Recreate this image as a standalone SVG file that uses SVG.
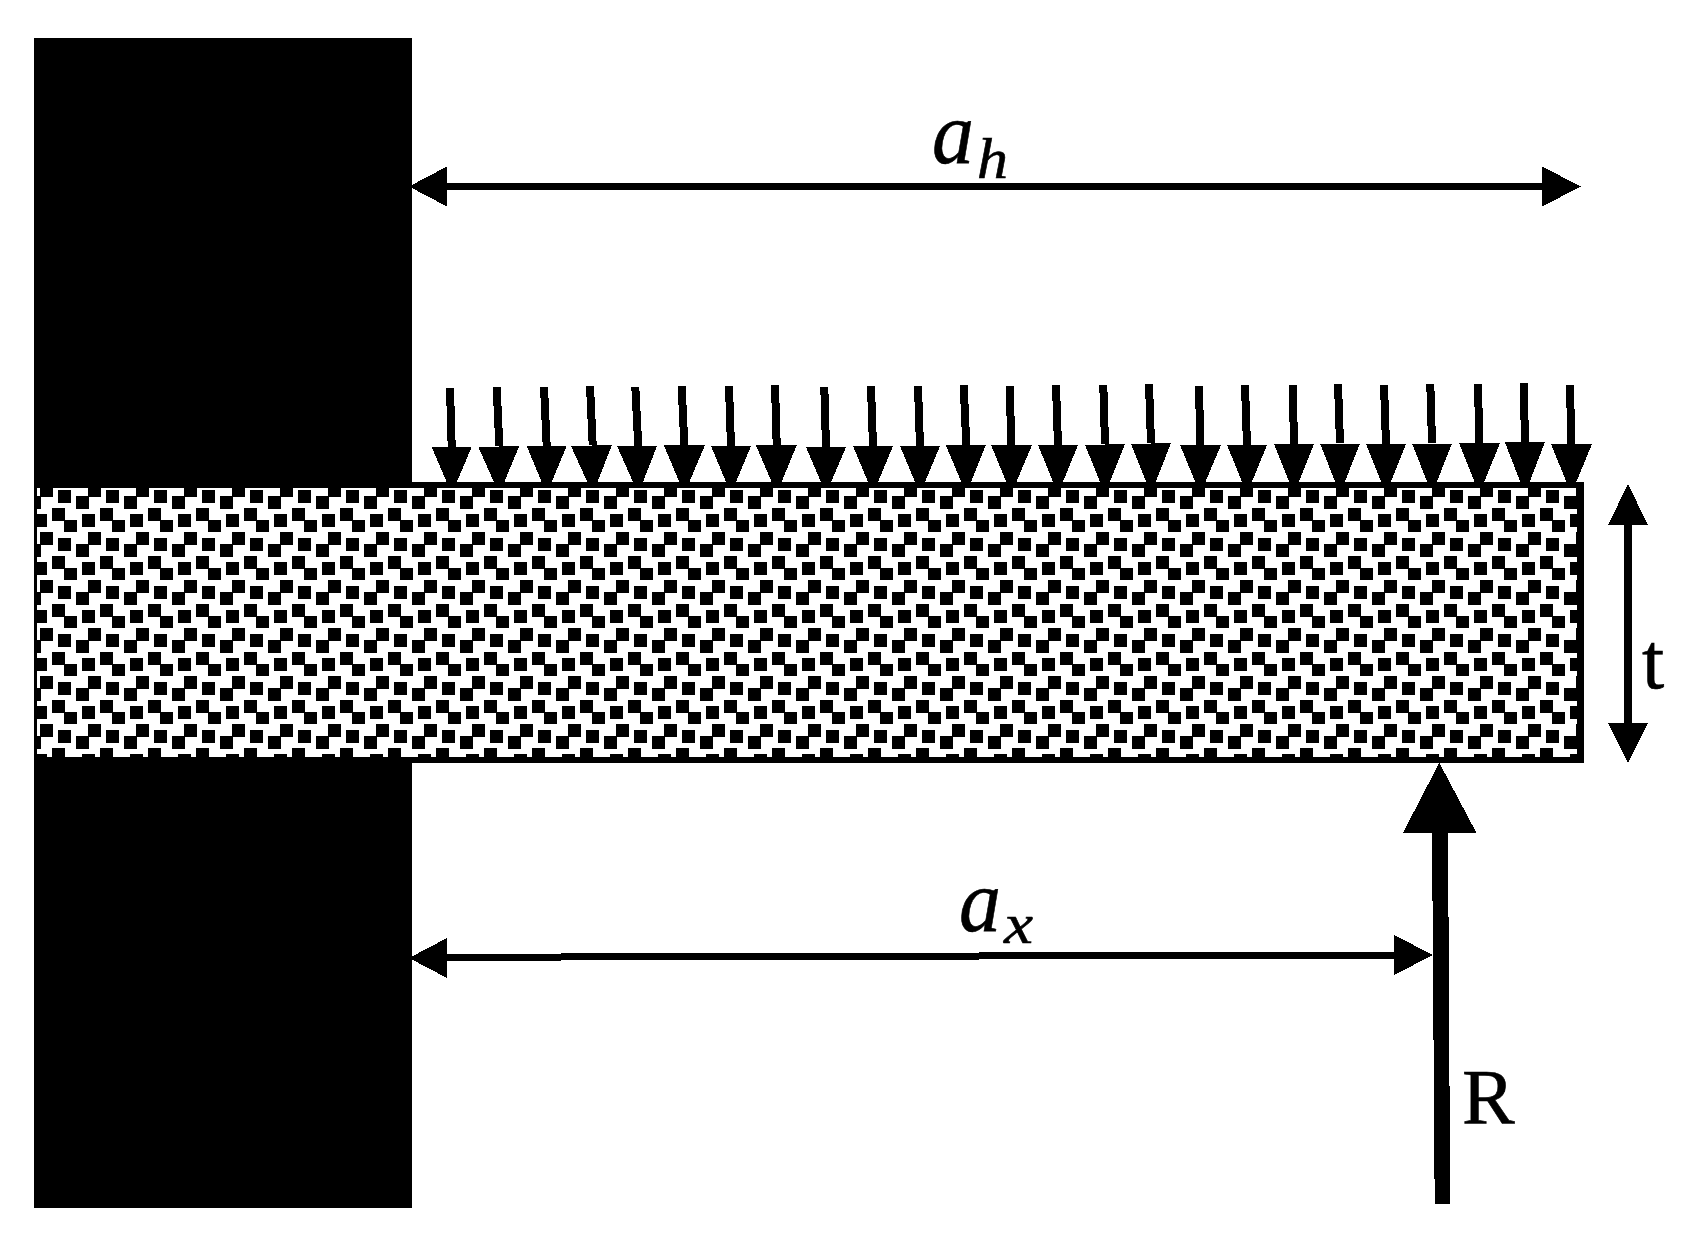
<svg xmlns="http://www.w3.org/2000/svg" width="1707" height="1255" viewBox="0 0 1707 1255">
<style>
.k{fill:#000;stroke:none;shape-rendering:crispEdges}
.s{stroke:#000;fill:none;shape-rendering:crispEdges}
.u{stroke-width:8}
.d{stroke-width:7}
.lbl{font-family:"Liberation Serif","Times New Roman",serif;fill:#000;stroke:#000;stroke-width:.6}
.it{font-style:italic}
</style>
<defs>
<pattern id="brick" patternUnits="userSpaceOnUse" x="28" y="484" width="48" height="48">
<rect width="48" height="48" fill="#fff" shape-rendering="crispEdges"/>
<g class="k">
<rect x="12" y="0" width="13" height="13"/>
<rect x="30" y="6" width="13" height="13"/>
<rect x="0" y="12" width="13" height="13"/>
<rect x="24" y="24" width="13" height="13"/>
<rect x="6" y="30" width="13" height="13"/>
<rect x="36" y="36" width="12" height="13"/>
<rect x="-12" y="36" width="13" height="13"/>
</g>
</pattern>
</defs>
<rect width="1707" height="1255" fill="#fff"/>
<g id="connectors">
<g id="load">
<path class="s u" d="M450 388L451.700 447"/><path class="k" d="M431.700 447H471.700L451.700 494Z"/>
<path class="s u" d="M496.700 387L499.300 446"/><path class="k" d="M478.300 447L519.300 446L499.300 494Z"/>
<path class="s u" d="M544 387L546.700 446"/><path class="k" d="M526.700 446H566.700L546.700 494Z"/>
<path class="s u" d="M590 386L592.700 445"/><path class="k" d="M571 446L612 445L592.700 494Z"/>
<path class="s u" d="M635.300 387L638.300 446"/><path class="k" d="M617 446H657L638.300 494Z"/>
<path class="s u" d="M681.700 386L684.300 445"/><path class="k" d="M664 445.500L705 445L684.300 494Z"/>
<path class="s u" d="M729 386L731 446"/><path class="k" d="M711 446H751L731 494Z"/>
<path class="s u" d="M775 385L776.700 445"/><path class="k" d="M756 445.500L797 444.500L776.700 494Z"/>
<path class="s u" d="M824.300 387L826 447"/><path class="k" d="M806 447H846L826 494Z"/>
<path class="s u" d="M871 386L873 446"/><path class="k" d="M853 446H893L873 494Z"/>
<path class="s u" d="M918 386L920 446"/><path class="k" d="M900 446H940L920 494Z"/>
<path class="s u" d="M963.700 385L966.300 445"/><path class="k" d="M946 445.500L986 444.500L966.300 494Z"/>
<path class="s u" d="M1009.700 386L1011.300 445"/><path class="k" d="M991 445H1032L1011.300 494Z"/>
<path class="s u" d="M1056 385L1058 445"/><path class="k" d="M1038 445H1078L1058 494Z"/>
<path class="s u" d="M1103.300 385L1105 444"/><path class="k" d="M1085 445L1125 444L1105 494Z"/>
<path class="s u" d="M1149 384L1151 443"/><path class="k" d="M1131 444L1171 443L1151 494Z"/>
<path class="s u" d="M1199 386L1200.300 445"/><path class="k" d="M1180 445H1221L1200.300 494Z"/>
<path class="s u" d="M1245 385L1247 445"/><path class="k" d="M1227 445H1267L1247 494Z"/>
<path class="s u" d="M1292.700 385L1294 444"/><path class="k" d="M1274 444H1314L1294 494Z"/>
<path class="s u" d="M1338 384L1340 443"/><path class="k" d="M1320 443.500H1360L1340 494Z"/>
<path class="s u" d="M1384 385L1386 444"/><path class="k" d="M1366 444H1406L1386 494Z"/>
<path class="s u" d="M1430.300 384L1432 443"/><path class="k" d="M1412 443.500H1452L1432 494Z"/>
<path class="s u" d="M1478 384L1479.300 443"/><path class="k" d="M1459 443H1500L1479.300 494Z"/>
<path class="s u" d="M1523.700 383L1525 442"/><path class="k" d="M1505 442.500L1545 442L1525 494Z"/>
<path class="s u" d="M1570 385L1571.300 444"/><path class="k" d="M1551 444H1592L1571.300 494Z"/>
</g>
<g id="dim-ah">
<path class="s d" d="M440 186.500H1550"/>
<path class="k" d="M447 166.500V206.500L409 186.500Z"/>
<path class="k" d="M1542 166.500V206.500L1581 186.500Z"/>
</g>
<g id="dim-ax">
<path class="s d" d="M440 957.300L1400 955"/>
<path class="k" d="M447 938V978L409 958Z"/>
<path class="k" d="M1394 935V975L1433 955Z"/>
</g>
<g id="dim-t">
<path class="s u" d="M1628 520V730"/>
<path class="k" d="M1608 525H1648L1628 484Z"/>
<path class="k" d="M1608 723H1648L1628 763Z"/>
</g>
<g id="reaction">
<path class="k" d="M1432 830H1448L1450.200 1204H1434.700Z"/>
<path class="k" d="M1402.700 833.300H1476.700L1439.300 762.700Z"/>
</g>
</g>
<g id="wall"><rect class="k" x="34" y="38" width="378" height="1170"/></g>
<g id="plate">
<rect class="k" x="34" y="482" width="1550" height="281"/>
<rect x="37" y="488" width="1540" height="269" fill="url(#brick)" shape-rendering="crispEdges"/>
</g>
<g id="label-ah"><text class="lbl it" x="932" y="163" font-size="88" textLength="42" lengthAdjust="spacingAndGlyphs">a</text><text class="lbl it" x="977" y="178" font-size="56" textLength="31" lengthAdjust="spacingAndGlyphs">h</text></g>
<g id="label-ax"><text class="lbl it" x="959" y="931" font-size="88" textLength="42" lengthAdjust="spacingAndGlyphs">a</text><text class="lbl it" x="1004" y="943" font-size="56" textLength="29" lengthAdjust="spacingAndGlyphs">x</text></g>
<g id="label-t"><text class="lbl" x="1642" y="688" font-size="80">t</text></g>
<g id="label-R"><text class="lbl" x="1462" y="1123" font-size="79">R</text></g>
</svg>
